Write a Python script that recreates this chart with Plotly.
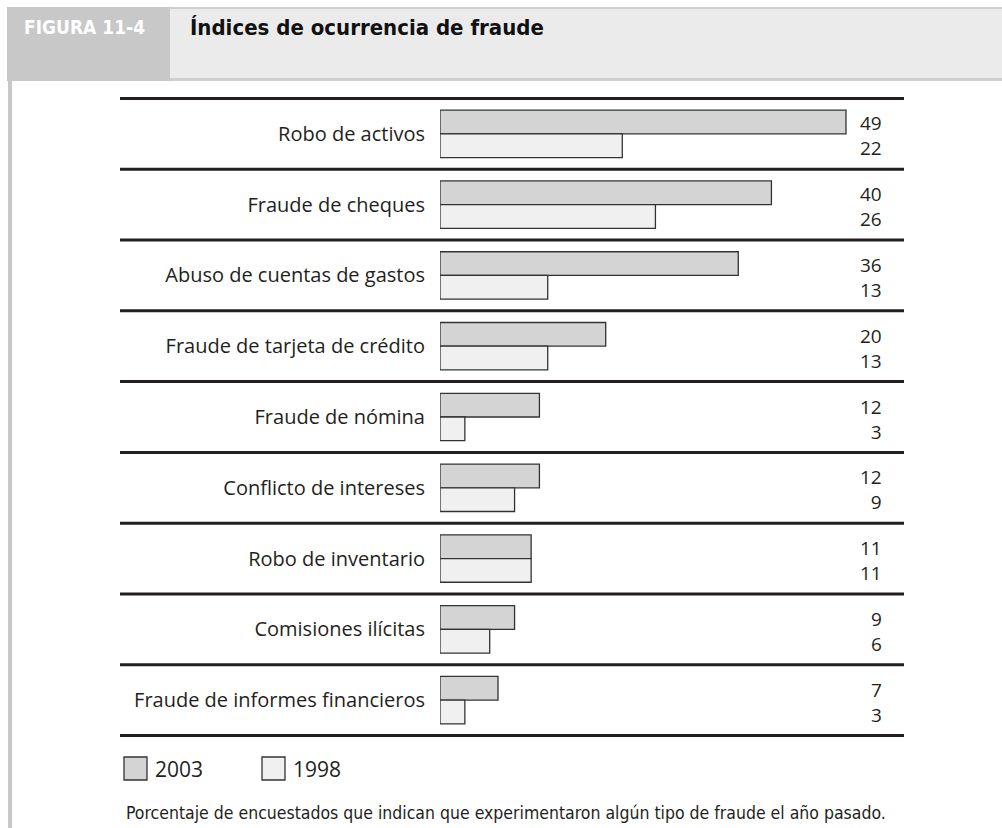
import plotly.graph_objects as go

# Survey data: share of respondents reporting each fraud type (%)
categories = [
    "Robo de activos",
    "Fraude de cheques",
    "Abuso de cuentas de gastos",
    "Fraude de tarjeta de crédito",
    "Fraude de nómina",
    "Conflicto de intereses",
    "Robo de inventario",
    "Comisiones ilícitas",
    "Fraude de informes financieros",
]
values_2003 = [49, 40, 36, 20, 12, 12, 11, 9, 7]
values_1998 = [22, 26, 13, 13, 3, 9, 11, 6, 3]
series_names = ["2003", "1998"]

W, H = 1002, 828
L, R, T, B = 440, 904, 97, 737  # plot area in pixels
X_MAX = 56.0

def px(x):
    return (x - L) / (R - L)

def py(y):
    return (B - y) / (B - T)

def narrow(s):
    return '<span style="font-stretch:condensed">' + s + '</span>'

fill_2003 = "#d4d4d4"
fill_1998 = "#f0f0f0"
edge = "#333333"
text_col = "#231f20"
body_font = "Open Sans"
narrow_font = "DejaVu Sans Condensed, DejaVu Sans"

fig = go.Figure()
fig.add_trace(go.Bar(
    y=categories, x=values_2003, name=series_names[0], orientation="h",
    marker=dict(color=fill_2003, line=dict(color=edge, width=1.3)),
    hoverinfo="x+y",
))
fig.add_trace(go.Bar(
    y=categories, x=values_1998, name=series_names[1], orientation="h",
    marker=dict(color=fill_1998, line=dict(color=edge, width=1.3)),
    hoverinfo="x+y",
))

shapes = []
annotations = []

# Horizontal rules between categories
for i in range(len(categories) + 1):
    shapes.append(dict(
        type="line", xref="paper", yref="y",
        x0=px(120), x1=px(904), y0=i - 0.5, y1=i - 0.5,
        line=dict(color="#231f20", width=3),
    ))

# Value labels (2003 above 1998), right-aligned in a column
for cat, a, b in zip(categories, values_2003, values_1998):
    annotations.append(dict(
        xref="paper", yref="y", x=px(884), y=cat, yshift=-2,
        text=f"{a}<br>{b}", showarrow=False, xanchor="right", align="right",
        font=dict(family=body_font, size=19, color=text_col),
    ))

# Header band
shapes += [
    dict(type="rect", xref="paper", yref="paper", layer="below",
         x0=px(7), x1=px(1002), y0=py(81), y1=py(7),
         fillcolor="#ebebeb", line=dict(width=0)),
    dict(type="rect", xref="paper", yref="paper", layer="below",
         x0=px(7), x1=px(1002), y0=py(9), y1=py(7),
         fillcolor="#cfcfcf", line=dict(width=0)),
    dict(type="rect", xref="paper", yref="paper", layer="below",
         x0=px(7), x1=px(1002), y0=py(81), y1=py(78),
         fillcolor="#cfcfcf", line=dict(width=0)),
    dict(type="rect", xref="paper", yref="paper", layer="below",
         x0=px(7), x1=px(170), y0=py(81), y1=py(7),
         fillcolor="#c8c8c8", line=dict(width=0)),
    # left frame rule
    dict(type="rect", xref="paper", yref="paper", layer="below",
         x0=px(8), x1=px(12), y0=py(828), y1=py(81),
         fillcolor="#c8c8c8", line=dict(width=0)),
]
annotations += [
    dict(xref="paper", yref="paper", x=px(22), y=py(27), xanchor="left",
         yanchor="middle", showarrow=False, text=narrow("<b>FIGURA 11-4</b>"),
         font=dict(family=narrow_font, size=19, color="white")),
    dict(xref="paper", yref="paper", x=px(188), y=py(27), xanchor="left",
         yanchor="middle", showarrow=False,
         text=narrow("<b>Índices de ocurrencia de fraude</b>"),
         font=dict(family=narrow_font, size=22, color="#111111")),
]

# Legend swatches
for name, fill, x0 in ((series_names[0], fill_2003, 124), (series_names[1], fill_1998, 262)):
    shapes.append(dict(
        type="rect", xref="paper", yref="paper",
        x0=px(x0), x1=px(x0 + 23), y0=py(780), y1=py(757),
        fillcolor=fill, line=dict(color=edge, width=1.3),
    ))
    annotations.append(dict(
        xref="paper", yref="paper", x=px(x0 + 29), y=py(769),
        xanchor="left", yanchor="middle", showarrow=False, text=name,
        font=dict(family=body_font, size=21, color=text_col),
    ))

# Footnote
annotations.append(dict(
    xref="paper", yref="paper", x=px(124), y=py(813), xanchor="left",
    yanchor="middle", showarrow=False,
    text=narrow("Porcentaje de encuestados que indican que experimentaron algún tipo de fraude el año pasado."),
    font=dict(family=narrow_font, size=17.5, color=text_col),
))

fig.update_layout(
    width=W, height=H,
    margin=dict(l=L, r=W - R, t=T, b=H - B, pad=0),
    paper_bgcolor="white", plot_bgcolor="white",
    barmode="group", bargap=0.33, bargroupgap=0,
    showlegend=False,
    shapes=shapes, annotations=annotations,
    xaxis=dict(range=[0, X_MAX], visible=False, fixedrange=True),
    yaxis=dict(
        autorange="reversed", showgrid=False, zeroline=False, showline=False,
        ticks="", ticklabelstandoff=14,
        tickfont=dict(family=body_font, size=20, color=text_col),
        fixedrange=True,
    ),
    font=dict(family=body_font),
)

fig.write_html("out.html")
